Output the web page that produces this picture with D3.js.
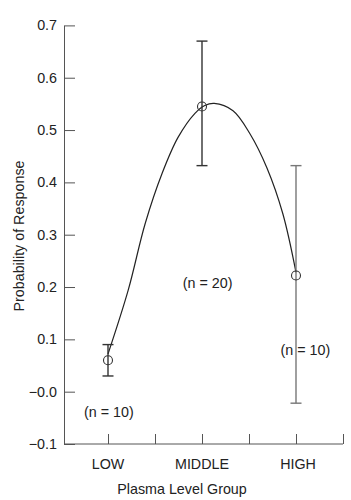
<!DOCTYPE html>
<html>
<head>
<meta charset="utf-8">
<script src="https://cdn.jsdelivr.net/npm/d3@7"></script>
<style>
  body { margin: 0; background: #fff; }
  text { font-family: "Liberation Sans", Arial, sans-serif; fill: #222; }
</style>
</head>
<body>
<div id="chart"></div>
<script>
/////////////////////////////////////////////////
/* Data */
/////////////////////////////////////////////////
// group positions along the x axis
const groups = ["LOW", "MIDDLE", "HIGH"];
const groupPos = [1, 3, 5];
const prob = [0.06, 0.545, 0.222];
const errLow = [0.03, 0.432, -0.022];
const errHigh = [0.09, 0.67, 0.432];
const nLabels = ["(n = 10)", "(n = 20)", "(n = 10)"];
const nLabelX = [1.02, 3.12, 5.2];
const nLabelY = [-0.048, 0.198, 0.07];

// fitted curve
const fitX = [1.0, 1.43, 1.79, 2.15, 2.49, 2.85, 3.06, 3.26, 3.66, 4.02, 4.38, 4.72, 5.0];
const fitY = [0.072, 0.194, 0.321, 0.417, 0.486, 0.532, 0.547, 0.551, 0.537, 0.493, 0.428, 0.340, 0.228];

const yTicks = [-0.1, 0, 0.1, 0.2, 0.3, 0.4, 0.5, 0.6, 0.7];
const xTicks = [1, 2, 3, 4, 5, 6];

/////////////////////////////////////////////////
/* Setup */
/////////////////////////////////////////////////
var width = 351, height = 500;
var fs = "14.3px";
var svg = d3.select("#chart").append("svg")
    .attr("width", width)
    .attr("height", height);

var axisLeftX = 64;
var x = d3.scaleLinear().domain([0, 6]).range([61, 343]);
var y = d3.scaleLinear().domain([-0.1, 0.7]).range([444, 25.4]);

// y axis
var yAxis = svg.append("g")
    .attr("transform", "translate(" + axisLeftX + ",0)")
    .call(d3.axisLeft(y)
        .tickValues(yTicks)
        .tickSizeInner(-11)
        .tickSizeOuter(0)
        .tickPadding(7)
        .tickFormat(d => {
            let s = Math.abs(d).toFixed(1);
            return (d <= 0) ? "\u2212" + s : s;
        }));
yAxis.selectAll("text").style("font-size", fs).attr("fill", "#222");
yAxis.selectAll("line").attr("stroke", "#555");
yAxis.select(".domain").attr("stroke", "#555");

// x axis
var xAxis = svg.append("g")
    .attr("transform", "translate(0," + y(-0.1) + ")")
    .call(d3.axisBottom(x)
        .tickValues(xTicks)
        .tickSizeInner(-10)
        .tickSizeOuter(0)
        .tickFormat(""));
xAxis.select(".domain").remove();
xAxis.selectAll("line").attr("stroke", "#555");
xAxis.append("line")
    .attr("x1", axisLeftX).attr("x2", x(6))
    .attr("y1", 0).attr("y2", 0)
    .attr("stroke", "#555");

// category labels
svg.selectAll(".cat")
    .data(groups)
    .enter().append("text")
    .attr("class", "cat")
    .attr("x", (d, i) => x(groupPos[i]) + (i == 2 ? 2 : 0))
    .attr("y", 469)
    .attr("text-anchor", "middle")
    .style("font-size", fs)
    .text(d => d);

// axis titles
svg.append("text")
    .attr("x", 182)
    .attr("y", 494)
    .attr("text-anchor", "middle")
    .style("font-size", fs)
    .text("Plasma Level Group");

svg.append("text")
    .attr("transform", "translate(24,236) rotate(-90)")
    .attr("text-anchor", "middle")
    .style("font-size", fs)
    .text("Probability of Response");

/////////////////////////////////////////////////
/* Marks */
/////////////////////////////////////////////////
// n labels (drawn first so the error bar crosses them)
svg.selectAll(".nlab")
    .data(nLabels)
    .enter().append("text")
    .attr("class", "nlab")
    .attr("x", (d, i) => x(nLabelX[i]))
    .attr("y", (d, i) => y(nLabelY[i]))
    .attr("text-anchor", "middle")
    .style("font-size", fs)
    .text(d => d);

// fitted curve
var fitData = fitX.map((d, i) => ({x: d, y: fitY[i]}));
svg.append("path")
    .datum(fitData)
    .attr("fill", "none")
    .attr("stroke", "#222")
    .attr("stroke-width", 1.2)
    .attr("d", d3.line()
        .x(d => x(d.x))
        .y(d => y(d.y))
        .curve(d3.curveCatmullRom));

// error bars
var barColor = ["#333", "#333", "#777"];
var bars = svg.selectAll(".bar")
    .data(groups)
    .enter().append("g")
    .attr("class", "bar")
    .attr("stroke", (d, i) => barColor[i])
    .attr("stroke-width", 1.4);

bars.append("line")
    .attr("x1", (d, i) => x(groupPos[i])).attr("x2", (d, i) => x(groupPos[i]))
    .attr("y1", (d, i) => y(errLow[i])).attr("y2", (d, i) => y(errHigh[i]));
bars.append("line")
    .attr("x1", (d, i) => x(groupPos[i]) - 5.5).attr("x2", (d, i) => x(groupPos[i]) + 5.5)
    .attr("y1", (d, i) => y(errLow[i])).attr("y2", (d, i) => y(errLow[i]));
bars.append("line")
    .attr("x1", (d, i) => x(groupPos[i]) - 5.5).attr("x2", (d, i) => x(groupPos[i]) + 5.5)
    .attr("y1", (d, i) => y(errHigh[i])).attr("y2", (d, i) => y(errHigh[i]));

// points
svg.selectAll(".pt")
    .data(prob)
    .enter().append("circle")
    .attr("class", "pt")
    .attr("cx", (d, i) => x(groupPos[i]))
    .attr("cy", d => y(d))
    .attr("r", 4.5)
    .attr("fill", "none")
    .attr("stroke", "#333")
    .attr("stroke-width", 1.1);
</script>
</body>
</html>
